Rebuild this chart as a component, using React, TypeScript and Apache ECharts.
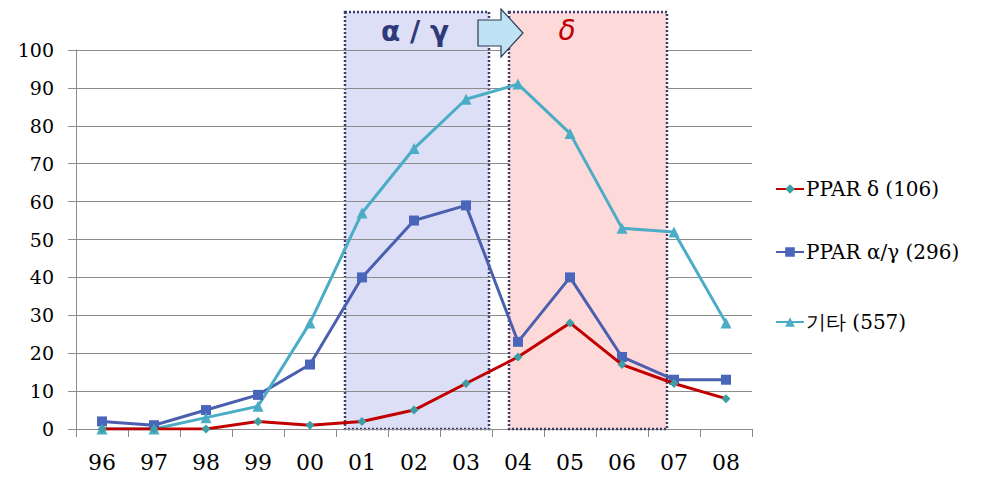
import React, { useEffect, useRef } from "react";
import * as echarts from "echarts";

const categories = ["96", "97", "98", "99", "00", "01", "02", "03", "04", "05", "06", "07", "08"];
const ppardValues = [0, 0, 0, 2, 1, 2, 5, 12, 19, 28, 17, 12, 8];
const pparagValues = [2, 1, 5, 9, 17, 40, 55, 59, 23, 40, 19, 13, 13];
const otherValues = [0, 0, 3, 6, 28, 57, 74, 87, 91, 78, 53, 52, 28];
const seriesNames = ["PPAR δ (106)", "PPAR α/γ (296)", "기타 (557)"];

const FONT = "DejaVu Serif";
const legendTops = [174, 237, 307];

export default function App() {
  const ref = useRef<HTMLDivElement>(null);
  useEffect(() => {
    if (!ref.current) return;
    const chart = echarts.init(ref.current, undefined, { renderer: "svg" });
    chart.setOption({
      animation: false,
      backgroundColor: "#ffffff",
      grid: { left: 76, right: 241, top: 50, bottom: 64 },
      xAxis: {
        type: "category",
        data: categories,
        z: -1,
        boundaryGap: true,
        axisLine: { lineStyle: { color: "#8c8c8c", width: 1 } },
        axisTick: { show: true, length: 8, lineStyle: { color: "#8c8c8c" } },
        axisLabel: { color: "#000", fontSize: 22, fontFamily: FONT, margin: 22 },
      },
      yAxis: {
        type: "value",
        min: 0,
        max: 100,
        interval: 10,
        z: -1,
        axisLine: { show: true, lineStyle: { color: "#8c8c8c", width: 1 } },
        axisTick: { show: true, length: 8, lineStyle: { color: "#8c8c8c" } },
        splitLine: { lineStyle: { color: "#8c8c8c", width: 1 } },
        axisLabel: { color: "#000", fontSize: 19, fontFamily: FONT, margin: 22 },
      },
      legend: seriesNames.map((name, i) => ({
        orient: "vertical",
        left: 770,
        top: legendTops[i],
        itemWidth: 28,
        itemHeight: 12,
        textStyle: { color: "#000", fontSize: 20, fontFamily: FONT, padding: [0, 0, 0, -3] },
        data: [name],
      })),
      graphic: [
        {
          type: "rect",
          z: -10,
          shape: { x: 345, y: 12, width: 144, height: 417 },
          style: { fill: "#dcdff5", stroke: "#3a3f6a", lineWidth: 2.5, lineDash: [2, 2] },
        },
        {
          type: "polygon",
          z: 5,
          shape: {
            points: [
              [478, 20],
              [501, 20],
              [501, 9],
              [523, 33],
              [501, 57],
              [501, 46],
              [478, 46],
            ],
          },
          style: { fill: "#bfe2f4", stroke: "#2b3a55", lineWidth: 1.2 },
        },
        {
          type: "text",
          z: 5,
          x: 415,
          y: 31,
          style: {
            text: "α / γ",
            fill: "#2e3a78",
            fontSize: 28,
            fontWeight: "bold",
            fontFamily: "DejaVu Sans",
            align: "center",
            verticalAlign: "middle",
          },
        },
        {
          type: "text",
          z: 5,
          x: 567,
          y: 30,
          style: {
            text: "δ",
            fill: "#c00000",
            fontSize: 28,
            fontStyle: "italic",
            fontFamily: "DejaVu Sans",
            align: "center",
            verticalAlign: "middle",
          },
        },
      ],
      series: [
        {
          name: "box",
          type: "line",
          data: [],
          z: 1,
          silent: true,
          markArea: {
            silent: true,
            z: 2,
            itemStyle: {
              color: "#fdd9d9",
              opacity: 1,
              borderColor: "#3a3f6a",
              borderWidth: 2.5,
              borderType: [2, 2],
            },
            data: [[{ x: 509, y: 12 }, { x: 667, y: 429 }]],
          },
        },
        {
          name: seriesNames[0],
          type: "line",
          data: ppardValues,
          z: 4,
          symbol: "diamond",
          symbolSize: 9,
          lineStyle: { color: "#c00000", width: 3 },
          itemStyle: { color: "#3d9ea3" },
        },
        {
          name: seriesNames[1],
          type: "line",
          data: pparagValues,
          z: 3,
          symbol: "rect",
          symbolSize: 10,
          lineStyle: { color: "#4a5fb0", width: 3 },
          itemStyle: { color: "#4a66ba" },
        },
        {
          name: seriesNames[2],
          type: "line",
          data: otherValues,
          z: 3,
          symbol: "triangle",
          symbolSize: 11,
          lineStyle: { color: "#4bacc6", width: 3 },
          itemStyle: { color: "#4bacc6" },
        },
      ],
    });
    return () => chart.dispose();
  }, []);
  return <div ref={ref} style={{ width: 993, height: 493, position: "absolute", left: 0, top: 0 }} />;
}
